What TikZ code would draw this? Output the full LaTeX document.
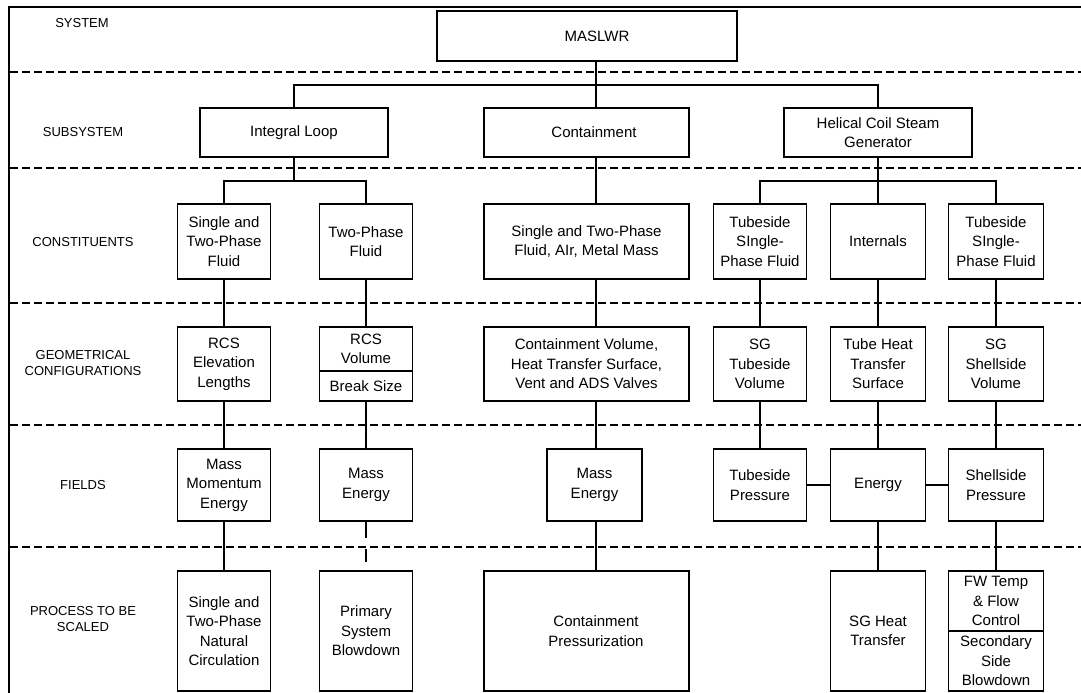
\documentclass[tikz,border=0pt]{standalone}
\usepackage{fontspec}
\setmainfont{Liberation Sans}
\newcommand{\boxfont}{\fontsize{15}{19.5}\selectfont}
\newcommand{\tierfont}{\fontsize{13}{16.5}\selectfont}
\tikzset{
    block/.style = {
        draw,
        shape=rectangle,
        fill=white,
        line width=1.3pt,
        inner sep=0pt,
        align=center,
        font=\boxfont
    },
    col/.style = {minimum width=#1},
    row/.style = {minimum height=#1},
    tier label/.style = {
        align=center,
        font=\tierfont
    },
    tier/.style = {
        line width=1.3pt,
        dash pattern=on 8pt off 4pt
    },
    link/.style = {line width=1.3pt},
}

\begin{document}
\begin{tikzpicture}[x=1pt, y=-1pt]
    \clip (0,0) rectangle (1081,693);
    \fill[white] (0,0) rectangle (1081,693);

    % frame and tier dividers
    \draw[line width=2pt] (9,700) -- (9,7) -- (1090,7);
    \foreach \y in {72,168,303,425,547}
        \draw[tier] (10,\y) -- (1090,\y);

    % tier names
    \node[tier label] (lsys) at (82,23) {SYSTEM};
    \node[tier label] (lsub) at (83,132) {SUBSYSTEM};
    \node[tier label] (lcon) at (83,242) {CONSTITUENTS};
    \node[tier label] (lgeo) at (83,363) {GEOMETRICAL\\CONFIGURATIONS};
    \node[tier label] (lfld) at (83,485) {FIELDS};
    \node[tier label] (lproc) at (83,619) {PROCESS TO BE\\SCALED};

    % system and subsystems
    \node[block, col=300pt, row=50pt] (maslwr) at (587,36) {\hspace*{20pt}MASLWR};
    \node[block, col=188pt, row=49pt] (loop) at (294,132.5) {Integral Loop};
    \node[block, col=205pt, row=49pt] (cont) at (586.5,132.5) {\hspace*{15pt}Containment};
    \node[block, col=188pt, row=49pt] (hcsg) at (878,132.5) {Helical Coil Steam\\Generator};

    % constituents
    \node[block, col=93pt, row=75pt] (fluidA) at (224,241.5) {Single and\\Two-Phase\\Fluid};
    \node[block, col=93pt, row=75pt] (fluidB) at (366,241.5) {Two-Phase\\Fluid};
    \node[block, col=205pt, row=75pt] (mix) at (586.5,241.5) {Single and Two-Phase\\Fluid, AIr, Metal Mass};
    \node[block, col=93pt, row=75pt] (tubefl) at (760,241.5) {Tubeside\\SIngle-\\Phase Fluid};
    \node[block, col=95pt, row=75pt] (intern) at (878,241.5) {Internals};
    \node[block, col=95pt, row=75pt] (shellfl) at (996,241.5) {Tubeside\\SIngle-\\Phase Fluid};

    % geometry
    \node[block, col=93pt, row=74pt] (elev) at (224,364) {RCS\\Elevation\\Lengths};
    \node[block, col=93pt, row=44pt] (rcsvol) at (366,349) {RCS\\Volume};
    \node[block, col=93pt, row=30pt] (brk) at (366,386) {Break Size};
    \node[block, col=205pt, row=74pt] (cvol) at (586.5,364) {Containment Volume,\\Heat Transfer Surface,\\Vent and ADS Valves};
    \node[block, col=93pt, row=74pt] (tubevol) at (760,364) {SG\\Tubeside\\Volume};
    \node[block, col=95pt, row=74pt] (surf) at (878,364) {Tube Heat\\Transfer\\Surface};
    \node[block, col=95pt, row=74pt] (shellvol) at (996,364) {SG\\Shellside\\Volume};

    % fields
    \node[block, col=93pt, row=72pt] (mmeA) at (224,485) {Mass\\Momentum\\Energy};
    \node[block, col=93pt, row=72pt] (meB) at (366,485) {Mass\\Energy};
    \node[block, col=95pt, row=72pt] (meC) at (594.5,485) {Mass\\Energy};
    \node[block, col=93pt, row=72pt] (tubep) at (760,485) {Tubeside\\Pressure};
    \node[block, col=95pt, row=72pt] (energy) at (878,485) {Energy};
    \node[block, col=95pt, row=72pt] (shellp) at (996,485) {Shellside\\Pressure};

    % processes
    \node[block, col=93pt, row=120pt] (natcirc) at (224,631) {Single and\\Two-Phase\\Natural\\Circulation};
    \node[block, col=93pt, row=120pt] (blowA) at (366,631) {Primary\\System\\Blowdown};
    \node[block, col=205pt, row=120pt] (press) at (586.5,631) {\hspace*{19pt}Containment\\\hspace*{19pt}Pressurization};
    \node[block, col=95pt, row=120pt] (sght) at (878,631) {SG Heat\\Transfer};
    \node[block, col=95pt, row=60pt] (fwctl) at (996,601) {FW Temp\\\& Flow\\Control};
    \node[block, col=95pt, row=60pt] (blowB) at (996,661) {Secondary\\Side\\Blowdown};

    % tree
    \coordinate (spine) at (596,0);
    \coordinate (topbus) at (0,85);
    \coordinate (subbus) at (0,181);

    \draw[link] (maslwr.south -| spine) -- (cont.north -| spine);
    \draw[link] (loop.north) |- (topbus -| hcsg.north) -- (hcsg.north);
    \draw[link] (loop.south) -- (loop.south |- subbus);
    \draw[link] (fluidA.north) |- (fluidB.north |- subbus) -- (fluidB.north);
    \draw[link] (hcsg.south) -- (intern.north);
    \draw[link] (tubefl.north) |- (shellfl.north |- subbus) -- (shellfl.north);

    \foreach \a/\b in {fluidA/elev, fluidB/rcsvol, tubefl/tubevol, intern/surf, shellfl/shellvol,
                       elev/mmeA, brk/meB, tubevol/tubep, surf/energy, shellvol/shellp,
                       mmeA/natcirc, energy/sght, shellp/fwctl}
        \draw[link] (\a.south) -- (\b.north);
    \foreach \a/\b in {cont/mix, mix/cvol, cvol/meC, meC/press}
        \draw[link] (\a.south -| spine) -- (\b.north -| spine);

    % broken lead into the blowdown box
    \draw[link, dash pattern=on 16pt off 11pt on 13pt off 10pt] (meB.south) -- (blowA.north);

    \draw[link] (tubep) -- (energy);
    \draw[link] (energy) -- (shellp);
\end{tikzpicture}
\end{document}
